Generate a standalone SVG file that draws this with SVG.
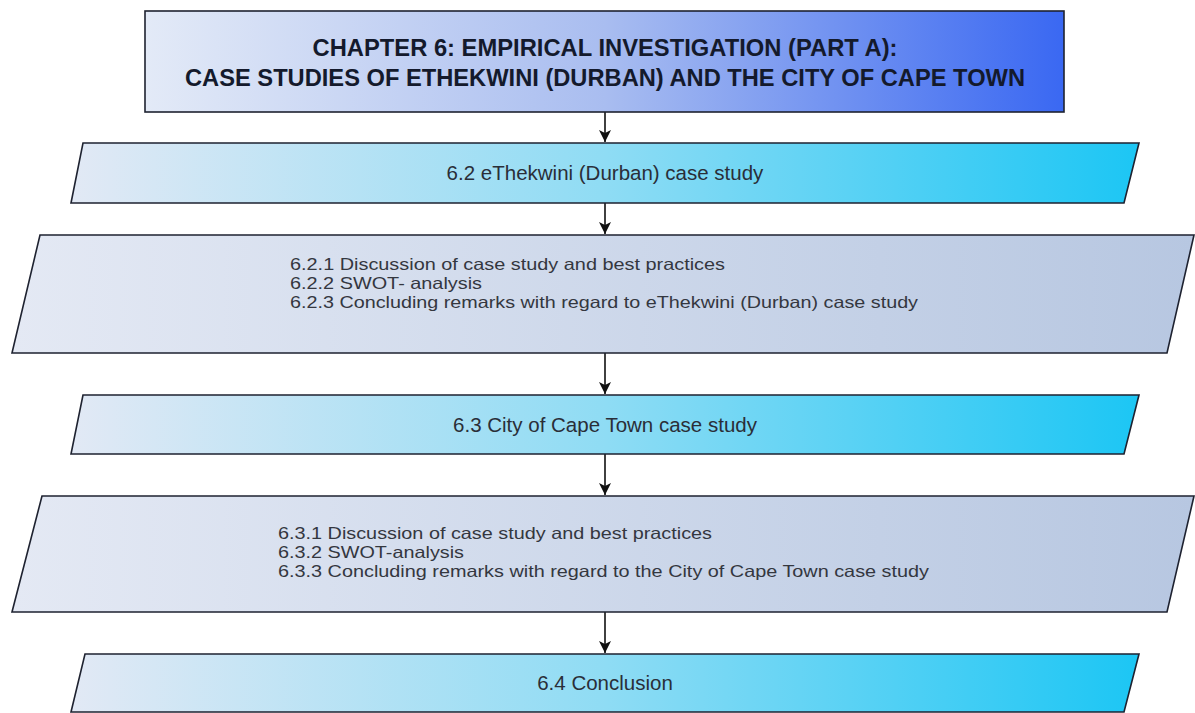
<svg xmlns="http://www.w3.org/2000/svg" width="1195" height="713" viewBox="0 0 1195 713">
  <style>
    .shape { stroke: #1e2230; stroke-width: 1.6; }
    .title { font-family: "Liberation Sans", Arial, sans-serif; font-weight: bold; font-size: 23px; fill: #141a2c; text-anchor: middle; }
    .label { font-family: "Liberation Sans", Arial, sans-serif; font-size: 20.5px; fill: #2a2e38; text-anchor: middle; }
    .item { font-family: "Liberation Sans", Arial, sans-serif; font-size: 16.5px; fill: #34373f; }
    .conn { stroke: #111; stroke-width: 1.6; fill: none; }
  </style>
  <defs>
    <linearGradient id="gradTitle" x1="0" y1="0" x2="1" y2="0">
      <stop offset="0" stop-color="#e3eaf7"/>
      <stop offset="0.5" stop-color="#a9bdf0"/>
      <stop offset="1" stop-color="#3a68f2"/>
    </linearGradient>
    <linearGradient id="gradCyan" x1="0" y1="0" x2="1" y2="0">
      <stop offset="0" stop-color="#e2e9f5"/>
      <stop offset="0.5" stop-color="#8fdcf4"/>
      <stop offset="1" stop-color="#1cc6f4"/>
    </linearGradient>
    <linearGradient id="gradGrey" x1="0" y1="0" x2="1" y2="0">
      <stop offset="0" stop-color="#e4e9f4"/>
      <stop offset="1" stop-color="#b7c7e1"/>
    </linearGradient>
    <marker id="arrow" viewBox="0 0 12 12" refX="12" refY="6" markerWidth="12" markerHeight="12" markerUnits="userSpaceOnUse" orient="auto">
      <path d="M0,0 L12,6 L0,12 L3,6 Z" fill="#111"/>
    </marker>
  </defs>

  <!-- connectors -->
  <g id="connectors">
    <line class="conn" x1="605" y1="112" x2="605" y2="142" marker-end="url(#arrow)"/>
    <line class="conn" x1="605" y1="203" x2="605" y2="234" marker-end="url(#arrow)"/>
    <line class="conn" x1="605" y1="353" x2="605" y2="394" marker-end="url(#arrow)"/>
    <line class="conn" x1="605" y1="454" x2="605" y2="495" marker-end="url(#arrow)"/>
    <line class="conn" x1="605" y1="612" x2="605" y2="653" marker-end="url(#arrow)"/>
  </g>

  <!-- chapter heading -->
  <g id="chapter">
    <rect class="shape" x="145" y="11" width="919" height="101" fill="url(#gradTitle)"/>
    <text class="title" x="605" y="56" textLength="585" lengthAdjust="spacingAndGlyphs">CHAPTER 6: EMPIRICAL INVESTIGATION (PART A):</text>
    <text class="title" x="605" y="86" textLength="840" lengthAdjust="spacingAndGlyphs">CASE STUDIES OF ETHEKWINI (DURBAN) AND THE CITY OF CAPE TOWN</text>
  </g>

  <!-- 6.2 -->
  <g id="s62">
    <polygon class="shape" points="83,143 1139,143 1124,203 71,203" fill="url(#gradCyan)"/>
    <text class="label" x="605" y="180">6.2 eThekwini (Durban) case study</text>
  </g>

  <g id="s62-detail">
    <polygon class="shape" points="40,235 1194,235 1167,353 12,353" fill="url(#gradGrey)"/>
    <text class="item" x="290" y="270" textLength="435" lengthAdjust="spacingAndGlyphs">6.2.1 Discussion of case study and best practices</text>
    <text class="item" x="290" y="289" textLength="192" lengthAdjust="spacingAndGlyphs">6.2.2 SWOT- analysis</text>
    <text class="item" x="290" y="308" textLength="628" lengthAdjust="spacingAndGlyphs">6.2.3 Concluding remarks with regard to eThekwini (Durban) case study</text>
  </g>

  <!-- 6.3 -->
  <g id="s63">
    <polygon class="shape" points="83,395 1139,395 1124,454 71,454" fill="url(#gradCyan)"/>
    <text class="label" x="605" y="432">6.3 City of Cape Town case study</text>
  </g>

  <g id="s63-detail">
    <polygon class="shape" points="42,496 1194,496 1167,612 12,612" fill="url(#gradGrey)"/>
    <text class="item" x="278" y="539" textLength="434" lengthAdjust="spacingAndGlyphs">6.3.1 Discussion of case study and best practices</text>
    <text class="item" x="278" y="558" textLength="186" lengthAdjust="spacingAndGlyphs">6.3.2 SWOT-analysis</text>
    <text class="item" x="278" y="577" textLength="651" lengthAdjust="spacingAndGlyphs">6.3.3 Concluding remarks with regard to the City of Cape Town case study</text>
  </g>

  <!-- 6.4 -->
  <g id="s64">
    <polygon class="shape" points="85,654 1139,654 1124,712 71,712" fill="url(#gradCyan)"/>
    <text class="label" x="605" y="690">6.4 Conclusion</text>
  </g>
</svg>
